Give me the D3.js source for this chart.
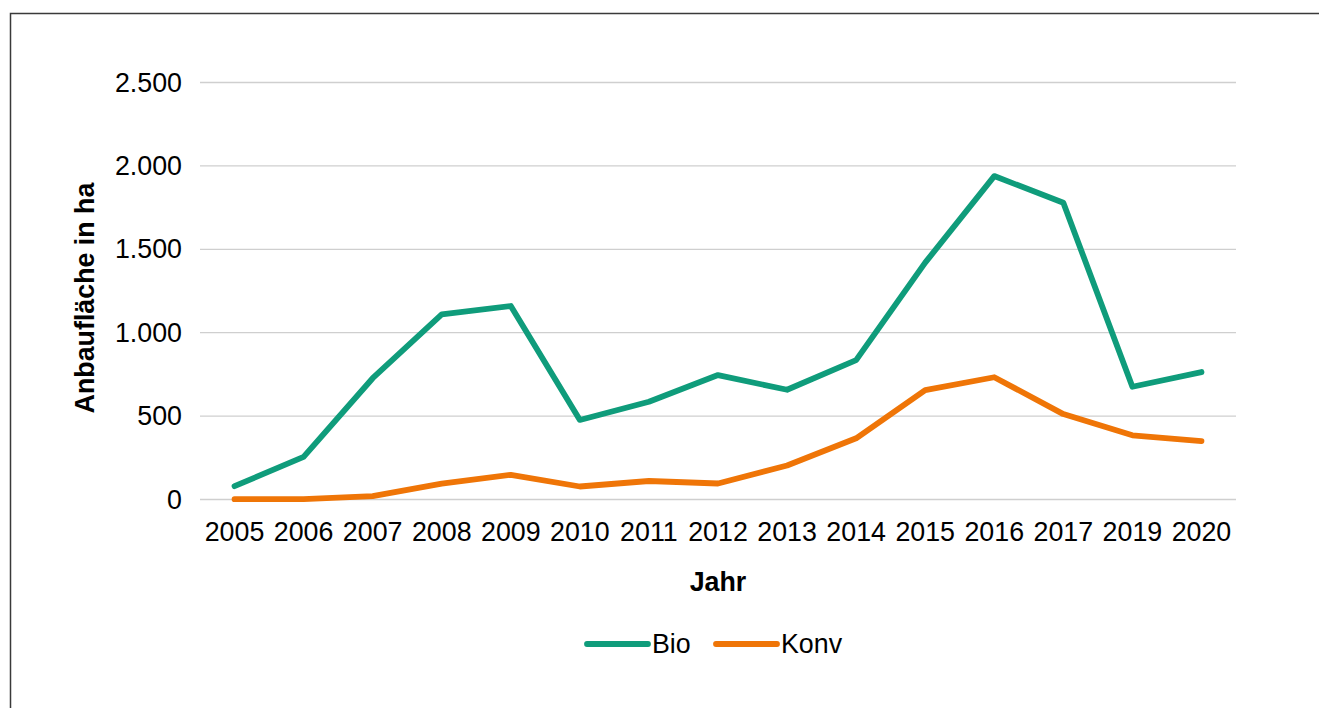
<!DOCTYPE html>
<html>
<head>
<meta charset="utf-8">
<script src="https://cdn.jsdelivr.net/npm/d3@7"></script>
<style>
  html, body { margin: 0; padding: 0; background: #fff; }
  svg { display: block; }
  text { font-family: "Liberation Sans", Arial, Helvetica, sans-serif; fill: #000; }
</style>
</head>
<body>
<svg id="chart" width="1319" height="708"></svg>
<script>
const years = ["2005","2006","2007","2008","2009","2010","2011","2012","2013","2014","2015","2016","2017","2019","2020"];
const bio  = [80, 256, 727, 1110, 1160, 477, 586, 746, 658, 836, 1420, 1939, 1779, 676, 764];
const konv = [2, 2, 20, 95, 148, 78, 111, 96, 204, 367, 656, 733, 512, 385, 350];
const yTicks = [0, 500, 1000, 1500, 2000, 2500];
const seriesNames = ["Bio", "Konv"];
const seriesColors = ["#0f9c7b", "#ef7507"];
const yTitle = "Anbaufläche in ha";
const xTitle = "Jahr";

(function () {
const svg = d3.select("#chart");
const FS = 26.8;

// outer frame
svg.append("rect")
  .attr("x", 10.5).attr("y", 13.5)
  .attr("width", 1330).attr("height", 720)
  .attr("fill", "none").attr("stroke", "#3a3a3a").attr("stroke-width", 1.5);

const pL = 200, pR = 1236, pT = 82.5, pB = 499.5;

const x = d3.scaleBand().domain(years).range([pL, pR]);
const y = d3.scaleLinear().domain([0, 2500]).range([pB, pT]);

const fmt = v => d3.format(",")(v).replace(/,/g, ".");

// gridlines
svg.append("g")
  .selectAll("line").data(yTicks).join("line")
  .attr("x1", pL).attr("x2", pR)
  .attr("y1", d => y(d)).attr("y2", d => y(d))
  .attr("stroke", "#cfcfcf").attr("stroke-width", 1.3);

// y axis labels
const yAxis = d3.axisLeft(y).tickValues(yTicks).tickFormat(fmt).tickSize(0).tickPadding(18);
const gy = svg.append("g").attr("transform", `translate(${pL},0)`).call(yAxis);
gy.select(".domain").remove();
gy.selectAll("text").attr("font-size", FS).attr("fill", "#000")
  .attr("font-family", "'Liberation Sans', Arial, sans-serif");

// x axis labels
const xAxis = d3.axisBottom(x).tickSize(0).tickPadding(22);
const gx = svg.append("g").attr("transform", `translate(0,${pB})`).call(xAxis);
gx.select(".domain").remove();
gx.selectAll("text").attr("font-size", FS).attr("fill", "#000")
  .attr("font-family", "'Liberation Sans', Arial, sans-serif");

// lines
const line = d3.line()
  .x((d, i) => x(years[i]) + x.bandwidth() / 2)
  .y(d => y(d));

[bio, konv].forEach((vals, k) => {
  svg.append("path")
    .datum(vals)
    .attr("d", line)
    .attr("fill", "none")
    .attr("stroke", seriesColors[k])
    .attr("stroke-width", 5.8)
    .attr("stroke-linejoin", "round")
    .attr("stroke-linecap", "round");
});

// axis titles
svg.append("text")
  .attr("transform", `translate(94,${(pT + pB) / 2 + 7}) rotate(-90)`)
  .attr("text-anchor", "middle")
  .attr("font-size", FS).attr("font-weight", "bold")
  .text(yTitle);

svg.append("text")
  .attr("x", (pL + pR) / 2).attr("y", 591)
  .attr("text-anchor", "middle")
  .attr("font-size", FS).attr("font-weight", "bold")
  .text(xTitle);

// legend
const legendItems = [
  { name: seriesNames[0], color: seriesColors[0], x0: 587 },
  { name: seriesNames[1], color: seriesColors[1], x0: 716 }
];
const lg = svg.append("g");
legendItems.forEach(it => {
  lg.append("line")
    .attr("x1", it.x0).attr("x2", it.x0 + 61)
    .attr("y1", 644).attr("y2", 644)
    .attr("stroke", it.color).attr("stroke-width", 5.8)
    .attr("stroke-linecap", "round");
  lg.append("text")
    .attr("x", it.x0 + 65).attr("y", 653)
    .attr("font-size", FS)
    .text(it.name);
});
})();
</script>
</body>
</html>
